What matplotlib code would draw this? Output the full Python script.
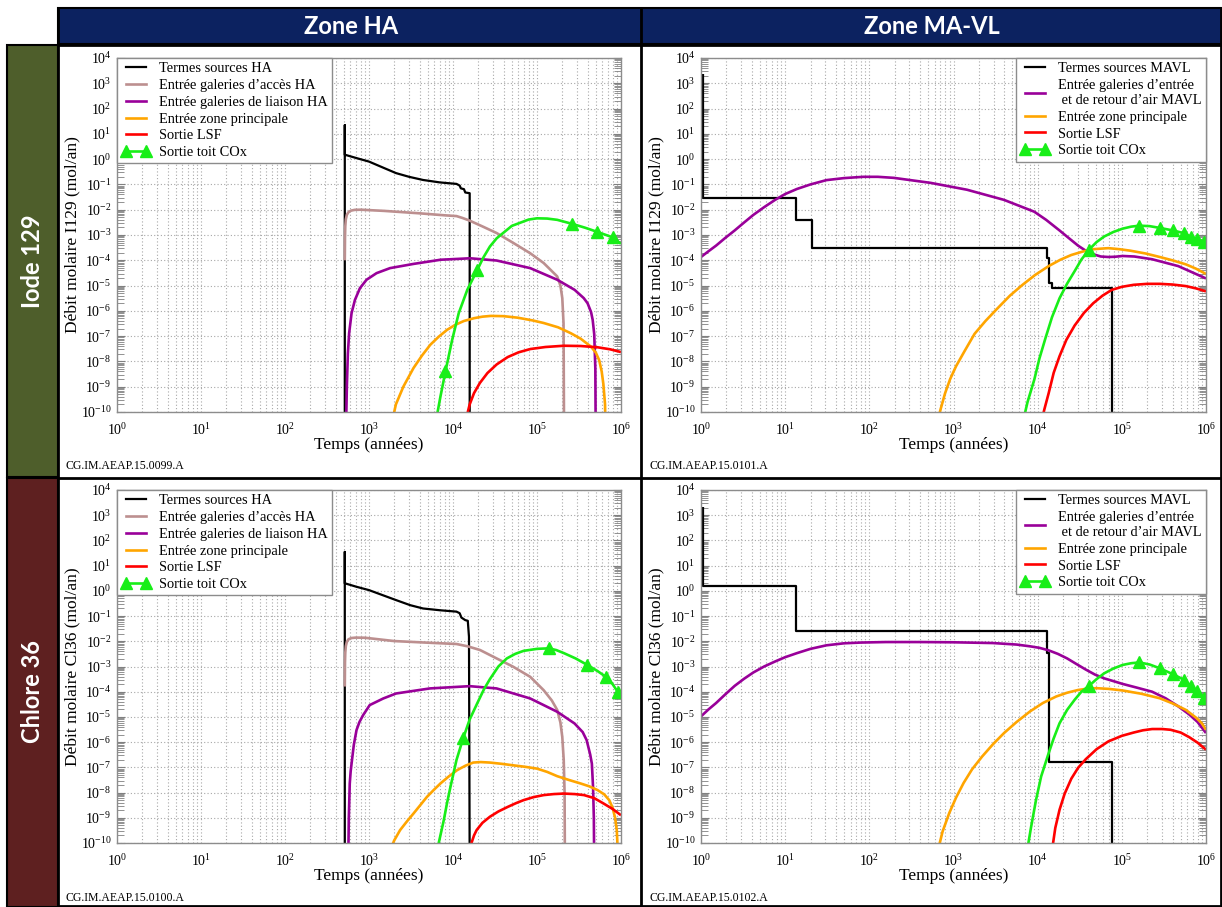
import numpy as np
import matplotlib
matplotlib.use("Agg")
import matplotlib.pyplot as plt
from matplotlib.lines import Line2D
from matplotlib.patches import Rectangle
from matplotlib.ticker import LogLocator, NullFormatter

plt.rcParams['font.family'] = ['Liberation Serif', 'DejaVu Serif']
plt.rcParams['mathtext.fontset'] = 'custom'
plt.rcParams['mathtext.rm'] = 'Liberation Serif'
plt.rcParams['mathtext.it'] = 'Liberation Serif:italic'
plt.rcParams['axes.unicode_minus'] = False

# ---------------------------------------------------------------- data
# Iode 129 - Zone HA  (temps en années, débit en mol/an)
i129_ha_source_t = [515, 515, 515, 710, 1000, 1500, 2100, 3000, 4400, 7000, 1.1e4, 1.2e4, 1.24e4, 1.35e4, 1.4e4, 1.58e4, 1.58e4]
i129_ha_source_v = [1e-11, 22, 1.5, 1.1, 0.8, 0.45, 0.28, 0.2, 0.15, 0.12, 0.105, 0.09, 0.07, 0.065, 0.048, 0.045, 1e-11]
i129_ha_acces_t = [515, 518, 522, 530, 545, 570, 610, 680, 800, 1500, 4000, 8000, 1.1e4, 1.3e4, 1.58e4, 2.3e4, 3.3e4, 5.2e4, 8.3e4, 1.2e5, 1.74e5, 1.9e5, 2e5, 2.07e5, 2.1e5]
i129_ha_acces_v = [1e-4, 8e-4, 2.2e-3, 4.2e-3, 6.3e-3, 8e-3, 9.2e-3, 9.9e-3, 1e-2, 9e-3, 7.2e-3, 6e-3, 5.6e-3, 4.7e-3, 3.7e-3, 2.1e-3, 1.2e-3, 4.9e-4, 1.9e-4, 7.8e-5, 2.3e-5, 1e-5, 3.2e-6, 3.2e-7, 1e-11]
i129_ha_liaison_t = [530, 545, 560, 580, 620, 680, 780, 935, 1230, 1780, 3400, 7100, 1.6e4, 3.3e4, 8.3e4, 1.74e5, 2.8e5, 3.6e5, 4e5, 4.4e5, 4.6e5, 4.8e5, 4.95e5, 5e5]
i129_ha_liaison_v = [1e-11, 1e-9, 2e-8, 1.3e-7, 8.1e-7, 2.7e-6, 7.9e-6, 1.7e-5, 3.1e-5, 4.9e-5, 7.2e-5, 1.05e-4, 1.2e-4, 9.8e-5, 4.9e-5, 1.7e-5, 6.8e-6, 3.2e-6, 2e-6, 9e-7, 4.4e-7, 1.2e-7, 5e-9, 1e-11]
i129_ha_zone_t = [1820, 2090, 2570, 3390, 4270, 5370, 6760, 8510, 1.07e4, 1.35e4, 1.78e4, 2.24e4, 2.82e4, 3.98e4, 5.89e4, 8.91e4, 1.2e5, 1.78e5, 2.51e5, 3.31e5, 4.37e5, 5.01e5, 5.5e5, 5.89e5, 6.17e5, 6.46e5, 6.53e5]
i129_ha_zone_v = [2.5e-11, 2e-10, 1.02e-9, 5.5e-9, 1.7e-8, 4.57e-8, 9.5e-8, 1.78e-7, 2.82e-7, 3.98e-7, 5.13e-7, 5.89e-7, 6.31e-7, 6.17e-7, 5.37e-7, 4.17e-7, 3.31e-7, 2.24e-7, 1.32e-7, 7.94e-8, 3.89e-8, 2.24e-8, 1.12e-8, 3.98e-9, 1.26e-9, 2e-10, 1e-11]
i129_ha_lsf_t = [1.26e4, 1.45e4, 1.58e4, 1.78e4, 2.09e4, 2.57e4, 3.31e4, 4.47e4, 6.03e4, 8.32e4, 1.26e5, 2.09e5, 3.31e5, 5.25e5, 7.41e5, 1e6]
i129_ha_lsf_v = [1e-11, 6.3e-11, 2e-10, 5.6e-10, 1.41e-9, 3.47e-9, 7.6e-9, 1.48e-8, 2.29e-8, 3.09e-8, 3.72e-8, 4.17e-8, 4.07e-8, 3.63e-8, 3.02e-8, 2.34e-8]
i129_ha_cox_t = [6310, 7080, 8130, 9770, 1.17e4, 1.48e4, 1.95e4, 2.29e4, 2.75e4, 3.31e4, 5.01e4, 7.94e4, 1e5, 1.32e5, 1.74e5, 2.63e5, 3.72e5, 5.25e5, 7.94e5, 1e6]
i129_ha_cox_v = [5e-11, 4e-10, 4e-9, 7.1e-8, 8.1e-7, 6.8e-6, 4.2e-5, 1.26e-4, 3.5e-4, 7.4e-4, 2.29e-3, 4.07e-3, 4.57e-3, 4.47e-3, 3.98e-3, 2.75e-3, 1.95e-3, 1.32e-3, 8.1e-4, 4.5e-4]
i129_ha_cox_marks = [2, 6, 15, 17, 18]

# Iode 129 - Zone MA-VL
i129_mavl_source_t = [1.05, 1.05, 13.5, 21, 1.29e4, 1.38e4, 1.5e4, 7.6e4]
i129_mavl_source_v = [2.4e3, 2.8e-2, 3.9e-3, 3e-4, 1.2e-4, 1.26e-5, 8e-6, 1e-11]
i129_mavl_galeries_t = [1, 1.23, 1.51, 1.95, 2.51, 3.24, 4.17, 5.62, 7.59, 10, 13.8, 20, 30.9, 50.1, 85.1, 126, 195, 537, 1445, 3981, 9120, 1.26e4, 1.82e4, 2.4e4, 3.02e4, 3.72e4, 4.57e4, 5.62e4, 6.92e4, 8.32e4, 1.02e5, 1.41e5, 2.29e5, 4.68e5, 1e6]
i129_mavl_galeries_v = [1.35e-4, 2.29e-4, 3.8e-4, 7.76e-4, 1.51e-3, 3.09e-3, 6.17e-3, 1.26e-2, 2.45e-2, 4.17e-2, 6.61e-2, 0.1, 0.148, 0.178, 0.2, 0.2, 0.182, 0.115, 6.17e-2, 2.45e-2, 8.32e-3, 3.98e-3, 1.51e-3, 7.08e-4, 3.8e-4, 2.4e-4, 1.74e-4, 1.41e-4, 1.35e-4, 1.38e-4, 1.48e-4, 1.41e-4, 1.1e-4, 5.89e-5, 1.91e-5]
i129_mavl_zone_t = [631, 708, 794, 912, 1072, 1349, 1778, 2399, 3311, 4677, 6607, 9333, 1.35e4, 1.86e4, 2.51e4, 3.39e4, 4.57e4, 6.92e4, 9.33e4, 1.26e5, 1.91e5, 2.82e5, 3.98e5, 5.75e5, 7.59e5, 1e6]
i129_mavl_zone_v = [3.16e-11, 1.41e-10, 5.5e-10, 2e-9, 6.46e-9, 2.51e-8, 1.23e-7, 3.98e-7, 1.23e-6, 3.98e-6, 1.07e-5, 2.63e-5, 5.89e-5, 1.05e-4, 1.62e-4, 2.19e-4, 2.75e-4, 3.02e-4, 2.75e-4, 2.4e-4, 1.86e-4, 1.35e-4, 1e-4, 6.92e-5, 4.68e-5, 2.88e-5]
i129_mavl_lsf_t = [1.07e4, 1.2e4, 1.35e4, 1.55e4, 1.82e4, 2.19e4, 2.75e4, 3.55e4, 4.57e4, 5.89e4, 7.59e4, 1e5, 1.38e5, 2e5, 2.82e5, 3.98e5, 5.75e5, 7.59e5, 1e6]
i129_mavl_lsf_v = [2.5e-11, 1.26e-10, 5.5e-10, 3.55e-9, 1.62e-8, 7.08e-8, 2.63e-7, 8.32e-7, 2e-6, 3.98e-6, 6.76e-6, 8.91e-6, 1.07e-5, 1.17e-5, 1.17e-5, 1.1e-5, 9.55e-6, 7.76e-6, 5.89e-6]
i129_mavl_cox_t = [6457, 7586, 9120, 1.05e4, 1.23e4, 1.48e4, 1.82e4, 2.24e4, 2.75e4, 3.31e4, 4.07e4, 5.01e4, 6.17e4, 7.94e4, 1.02e5, 1.29e5, 1.62e5, 2.14e5, 2.82e5, 4.07e5, 5.5e5, 6.61e5, 7.76e5, 9.55e5, 1e6]
i129_mavl_cox_v = [2.5e-11, 2.5e-10, 1.91e-9, 1.32e-8, 7.76e-8, 5.62e-7, 3.16e-6, 1.2e-5, 3.72e-5, 1.07e-4, 2.63e-4, 5.25e-4, 8.71e-4, 1.32e-3, 1.78e-3, 2.14e-3, 2.34e-3, 2.24e-3, 1.91e-3, 1.51e-3, 1.17e-3, 8.51e-4, 6.92e-4, 5.25e-4, 4.79e-4]
i129_mavl_cox_marks = [10, 16, 18, 19, 20, 21, 22, 23]

# Chlore 36 - Zone HA
cl36_ha_source_t = [515, 515, 515, 710, 1000, 1500, 2100, 3100, 4400, 7000, 1.1e4, 1.2e4, 1.26e4, 1.4e4, 1.5e4, 1.55e4, 1.58e4]
cl36_ha_source_v = [1e-11, 35, 2.0, 1.45, 1.07, 0.65, 0.43, 0.27, 0.2, 0.17, 0.15, 0.13, 0.087, 0.069, 0.065, 0.015, 1e-11]
cl36_ha_acces_t = [515, 518, 522, 530, 545, 570, 620, 700, 900, 2000, 5000, 1.1e4, 1.5e4, 2.1e4, 3.3e4, 5.2e4, 8.3e4, 1.2e5, 1.5e5, 1.74e5, 1.9e5, 2e5, 2.08e5, 2.13e5, 2.15e5]
cl36_ha_acces_v = [1.6e-4, 1.5e-3, 3.5e-3, 6.5e-3, 9.5e-3, 1.2e-2, 1.35e-2, 1.4e-2, 1.38e-2, 1.02e-2, 8.8e-3, 7.8e-3, 6.3e-3, 4.5e-3, 2.1e-3, 9.8e-4, 3.9e-4, 1.15e-4, 4.5e-5, 1.9e-5, 6e-6, 1.6e-6, 2e-7, 1e-8, 1e-11]
cl36_ha_liaison_t = [565, 575, 590, 605, 620, 660, 710, 770, 850, 1020, 1480, 2100, 5300, 1.58e4, 3.3e4, 8.3e4, 1.74e5, 2.8e5, 3.5e5, 3.9e5, 4.3e5, 4.5e5, 4.65e5, 4.75e5, 4.8e5]
cl36_ha_liaison_v = [1e-11, 1e-9, 2.3e-8, 7e-8, 1.4e-7, 7.9e-7, 3e-6, 6.3e-6, 1.17e-5, 2.95e-5, 5.4e-5, 8.5e-5, 1.35e-4, 1.66e-4, 1.35e-4, 5.4e-5, 1.6e-5, 5.5e-6, 2.5e-6, 1.2e-6, 3.2e-7, 1.4e-7, 1.6e-8, 1e-9, 1e-11]
cl36_ha_zone_t = [1738, 1995, 2344, 2818, 3388, 4074, 4898, 5888, 7079, 8913, 1.12e4, 1.41e4, 1.74e4, 2.14e4, 2.75e4, 3.8e4, 5.25e4, 7.24e4, 1e5, 1.32e5, 1.74e5, 2.4e5, 3.31e5, 4.17e5, 5.25e5, 6.31e5, 7.24e5, 7.94e5, 8.51e5, 8.91e5, 9.23e5]
cl36_ha_zone_v = [4e-11, 1.26e-10, 3.24e-10, 7.08e-10, 1.48e-9, 3.16e-9, 6.76e-9, 1.26e-8, 2.29e-8, 4.37e-8, 7.76e-8, 1.17e-7, 1.55e-7, 1.62e-7, 1.55e-7, 1.38e-7, 1.2e-7, 1.05e-7, 8.91e-8, 6.61e-8, 4.47e-8, 3.16e-8, 2.29e-8, 1.78e-8, 1.26e-8, 8.51e-9, 5.01e-9, 2.51e-9, 1e-9, 3.16e-10, 2.5e-11]
cl36_ha_lsf_t = [1.55e4, 1.66e4, 1.78e4, 1.91e4, 2.24e4, 2.75e4, 3.47e4, 4.47e4, 5.62e4, 6.92e4, 9.12e4, 1.2e5, 1.58e5, 2.09e5, 2.82e5, 3.63e5, 4.79e5, 6.17e5, 7.94e5, 1e6]
cl36_ha_lsf_v = [3.16e-11, 1e-10, 2e-10, 3.24e-10, 6.31e-10, 1.1e-9, 1.78e-9, 2.69e-9, 3.8e-9, 5.01e-9, 6.61e-9, 7.94e-9, 8.71e-9, 9.12e-9, 8.71e-9, 7.94e-9, 6.03e-9, 3.72e-9, 2.24e-9, 1.26e-9]
cl36_ha_cox_t = [6166, 6918, 7762, 8511, 9333, 1.1e4, 1.32e4, 1.58e4, 1.95e4, 2.34e4, 2.75e4, 3.47e4, 4.37e4, 5.5e4, 6.92e4, 1e5, 1.38e5, 1.7e5, 2.09e5, 2.88e5, 3.98e5, 5.25e5, 6.61e5, 7.94e5, 9.12e5, 1e6]
cl36_ha_cox_v = [2.5e-11, 1.41e-10, 7.94e-10, 3.98e-9, 1.7e-8, 1.95e-7, 1.41e-6, 7.94e-6, 3.55e-5, 1.26e-4, 3.16e-4, 1e-3, 2.09e-3, 3.16e-3, 4.17e-3, 5.01e-3, 5.25e-3, 4.47e-3, 3.39e-3, 2.09e-3, 1.15e-3, 6.61e-4, 3.89e-4, 2e-4, 1e-4, 7.41e-5]
cl36_ha_cox_marks = [6, 16, 20, 22, 24]

# Chlore 36 - Zone MA-VL
cl36_mavl_source_t = [1.05, 1.05, 13.5, 1.29e4, 1.38e4, 7.6e4]
cl36_mavl_source_v = [2.2e3, 1.5, 2.6e-2, 3.4e-3, 1.6e-7, 1e-11]
cl36_mavl_galeries_t = [1, 1.23, 1.51, 1.95, 2.51, 3.24, 4.17, 5.62, 7.59, 10, 13.8, 20, 30.9, 50.1, 79.4, 158, 398, 1000, 2951, 5623, 8128, 1.05e4, 1.35e4, 1.74e4, 2.24e4, 2.88e4, 3.72e4, 4.79e4, 6.17e4, 7.94e4, 1.02e5, 1.51e5, 2.29e5, 3.31e5, 4.68e5, 6.31e5, 7.94e5, 1e6]
cl36_mavl_galeries_v = [1.05e-5, 2e-5, 3.55e-5, 7.94e-5, 1.7e-4, 3.24e-4, 5.75e-4, 1e-3, 1.58e-3, 2.34e-3, 3.39e-3, 5.01e-3, 6.92e-3, 8.32e-3, 8.91e-3, 9.33e-3, 9.33e-3, 9.12e-3, 8.51e-3, 7.41e-3, 6.31e-3, 5.5e-3, 4.37e-3, 3.16e-3, 2.09e-3, 1.26e-3, 7.59e-4, 4.79e-4, 3.39e-4, 2.63e-4, 2.04e-4, 1.45e-4, 1e-4, 5.5e-5, 2.63e-5, 1.26e-5, 6.31e-6, 2.29e-6]
cl36_mavl_zone_t = [631, 741, 891, 1072, 1318, 1660, 2188, 2951, 3981, 5623, 8128, 1.15e4, 1.66e4, 2.24e4, 3.02e4, 3.89e4, 5.01e4, 7.08e4, 1.02e5, 1.7e5, 2.82e5, 3.98e5, 5.75e5, 7.76e5, 8.91e5, 1e6]
cl36_mavl_zone_v = [3.16e-11, 2.82e-10, 1.55e-9, 6.31e-9, 2.4e-8, 8.32e-8, 2.69e-7, 8.32e-7, 2.29e-6, 6.31e-6, 1.66e-5, 3.55e-5, 6.46e-5, 9.12e-5, 1.17e-4, 1.32e-4, 1.38e-4, 1.29e-4, 1.12e-4, 8.32e-5, 5.5e-5, 3.47e-5, 1.91e-5, 8.91e-6, 5.62e-6, 3.09e-6]
cl36_mavl_lsf_t = [1.45e4, 1.62e4, 1.82e4, 2.09e4, 2.51e4, 3.02e4, 3.72e4, 5.01e4, 6.92e4, 1e5, 1.38e5, 1.78e5, 2.29e5, 3.02e5, 3.8e5, 5.01e5, 6.31e5, 7.94e5, 1e6]
cl36_mavl_lsf_v = [3.16e-11, 3.98e-10, 2.09e-9, 8.91e-9, 3.55e-8, 9.55e-8, 2.09e-7, 5.25e-7, 1.07e-6, 1.78e-6, 2.4e-6, 2.95e-6, 3.31e-6, 3.31e-6, 3.09e-6, 2.4e-6, 1.58e-6, 9.55e-7, 5.01e-7]
cl36_mavl_cox_t = [7244, 8318, 9550, 1.1e4, 1.35e4, 1.55e4, 1.82e4, 2.24e4, 2.75e4, 3.31e4, 4.07e4, 5.01e4, 6.17e4, 7.94e4, 1.02e5, 1.29e5, 1.62e5, 2.14e5, 2.82e5, 4.07e5, 5.5e5, 6.61e5, 7.76e5, 9.55e5, 1e6]
cl36_mavl_cox_v = [2.5e-11, 3.98e-10, 5.01e-9, 4.37e-8, 3.63e-7, 1.41e-6, 5.62e-6, 1.91e-5, 4.79e-5, 1e-4, 1.7e-4, 3.16e-4, 5.37e-4, 8.32e-4, 1.15e-3, 1.35e-3, 1.45e-3, 1.2e-3, 8.51e-4, 4.9e-4, 2.95e-4, 1.7e-4, 1.02e-4, 5.5e-5, 4.79e-5]
cl36_mavl_cox_marks = [10, 16, 18, 19, 20, 21, 22, 23]

labels_ha = ["Termes sources HA", "Entrée galeries d’accès HA", "Entrée galeries de liaison HA",
             "Entrée zone principale", "Sortie LSF", "Sortie toit COx"]
labels_mavl = ["Termes sources MAVL", "Entrée galeries d’entrée\n et de retour d’air MAVL",
               "Entrée zone principale", "Sortie LSF", "Sortie toit COx"]
column_titles = ["Zone HA", "Zone MA-VL"]
row_titles = ["Iode 129", "Chlore 36"]
ylabels = ["Débit molaire I129 (mol/an)", "Débit molaire Cl36 (mol/an)"]
xlabel = "Temps (années)"
codes = [["CG.IM.AEAP.15.0099.A", "CG.IM.AEAP.15.0101.A"],
         ["CG.IM.AEAP.15.0100.A", "CG.IM.AEAP.15.0102.A"]]

# ---------------------------------------------------------------- styles
C_BLACK = "#000000"
C_ACCES = "#bc8f8f"
C_LIAISON = "#990099"
C_ZONE = "#ffa500"
C_LSF = "#ff0000"
C_COX = "#18ee18"
NAVY = "#0c2260"
ROW_COLORS = ["#4e5e2b", "#5e2020"]

W, H = 1222, 907
fig = plt.figure(figsize=(W / 100, H / 100), dpi=100)

# background frame drawn in pixel coordinates
bg = fig.add_axes([0, 0, 1, 1], zorder=-5)
bg.set_xlim(0, W)
bg.set_ylim(H, 0)
bg.axis("off")
bg.add_patch(Rectangle((58, 8), W - 58, 36, fc=NAVY, ec="black", lw=1.5))
bg.add_patch(Rectangle((7, 45), 51, 432, fc=ROW_COLORS[0], ec="black", lw=1.5))
bg.add_patch(Rectangle((7, 478), 51, 429, fc=ROW_COLORS[1], ec="black", lw=1.5))
for x in (58, 641, 1221):
    bg.plot([x, x], [8, H], color="black", lw=2)
for y in (44.5, 477.5, 906):
    bg.plot([58, W], [y, y], color="black", lw=2)
title_kw = dict(color="white", ha="center", va="center", fontsize=17,
                family="Lato", weight="bold")
bg.text(351, 27, column_titles[0], **title_kw)
bg.text(932, 27, column_titles[1], **title_kw)
bg.text(32, 261, row_titles[0], rotation=90, **title_kw)
bg.text(32, 692, row_titles[1], rotation=90, **title_kw)


def px_axes(left, top, right, bottom):
    return fig.add_axes([left / W, 1 - bottom / H, (right - left) / W, (bottom - top) / H])


def draw_panel(ax, curves, ylabel, legend_left):
    ax.set_xscale("log")
    ax.set_yscale("log")
    handles, labels = [], []
    for t, v, color, lw, label, marks, steps in curves:
        kw = dict(color=color, lw=lw, solid_joinstyle="round", solid_capstyle="butt")
        if steps:
            kw["drawstyle"] = "steps-post"
        if marks is not None:
            kw.update(marker="^", markevery=marks, ms=8.5, mfc=color, mec=color)
        ax.plot(t, v, **kw)
        h = Line2D([], [], color=color, lw=lw)
        if marks is not None:
            h.set_marker("^")
            h.set_markersize(8.5)
            h.set_markerfacecolor(color)
            h.set_markeredgecolor(color)
        handles.append(h)
        labels.append(label)
    ax.set_xlim(1, 1e6)
    ax.set_ylim(1e-10, 1e4)
    for axis in (ax.xaxis, ax.yaxis):
        axis.set_major_locator(LogLocator(base=10, numticks=20))
        axis.set_minor_locator(LogLocator(base=10, subs=np.arange(2, 10), numticks=20))
        axis.set_minor_formatter(NullFormatter())
    ax.grid(True, which="major", axis="both", ls=(0, (1, 2)), color="#a8a8a8", lw=0.8)
    ax.grid(True, which="minor", axis="x", ls=(0, (1, 2)), color="#a8a8a8", lw=0.8)
    ax.tick_params(axis="y", which="both", direction="in", left=True, right=True,
                   color="#808080", labelsize=10, pad=4)
    ax.tick_params(axis="y", which="major", length=6, width=0.8)
    ax.tick_params(axis="y", which="minor", length=5, width=0.6)
    ax.tick_params(axis="x", which="both", length=0, labelsize=10, pad=7)
    for s in ax.spines.values():
        s.set_color("#8c8c8c")
        s.set_linewidth(1)
    ax.set_ylabel(ylabel, fontsize=12.5)
    ax.yaxis.set_label_coords(-0.072, 0.5)
    ax.set_xlabel(xlabel, fontsize=12.5)
    ax.xaxis.set_label_coords(0.5, -0.07)
    leg = ax.legend(handles, labels, loc="upper left" if legend_left else "upper right",
                    bbox_to_anchor=(0, 1) if legend_left else (1, 1), borderaxespad=0,
                    fancybox=False, framealpha=1, edgecolor="#8c8c8c", fontsize=10.4,
                    handlelength=2.0, handletextpad=0.6, labelspacing=0.25,
                    borderpad=0.3, numpoints=2)
    leg.get_frame().set_linewidth(1)


panels = [
    [
        [
            (i129_ha_source_t, i129_ha_source_v, C_BLACK, 1.6, labels_ha[0], None, False),
            (i129_ha_acces_t, i129_ha_acces_v, C_ACCES, 1.9, labels_ha[1], None, False),
            (i129_ha_liaison_t, i129_ha_liaison_v, C_LIAISON, 1.9, labels_ha[2], None, False),
            (i129_ha_zone_t, i129_ha_zone_v, C_ZONE, 1.9, labels_ha[3], None, False),
            (i129_ha_lsf_t, i129_ha_lsf_v, C_LSF, 1.9, labels_ha[4], None, False),
            (i129_ha_cox_t, i129_ha_cox_v, C_COX, 1.9, labels_ha[5], i129_ha_cox_marks, False),
        ],
        [
            (i129_mavl_source_t, i129_mavl_source_v, C_BLACK, 1.6, labels_mavl[0], None, True),
            (i129_mavl_galeries_t, i129_mavl_galeries_v, C_LIAISON, 1.9, labels_mavl[1], None, False),
            (i129_mavl_zone_t, i129_mavl_zone_v, C_ZONE, 1.9, labels_mavl[2], None, False),
            (i129_mavl_lsf_t, i129_mavl_lsf_v, C_LSF, 1.9, labels_mavl[3], None, False),
            (i129_mavl_cox_t, i129_mavl_cox_v, C_COX, 1.9, labels_mavl[4], i129_mavl_cox_marks, False),
        ],
    ],
    [
        [
            (cl36_ha_source_t, cl36_ha_source_v, C_BLACK, 1.6, labels_ha[0], None, False),
            (cl36_ha_acces_t, cl36_ha_acces_v, C_ACCES, 1.9, labels_ha[1], None, False),
            (cl36_ha_liaison_t, cl36_ha_liaison_v, C_LIAISON, 1.9, labels_ha[2], None, False),
            (cl36_ha_zone_t, cl36_ha_zone_v, C_ZONE, 1.9, labels_ha[3], None, False),
            (cl36_ha_lsf_t, cl36_ha_lsf_v, C_LSF, 1.9, labels_ha[4], None, False),
            (cl36_ha_cox_t, cl36_ha_cox_v, C_COX, 1.9, labels_ha[5], cl36_ha_cox_marks, False),
        ],
        [
            (cl36_mavl_source_t, cl36_mavl_source_v, C_BLACK, 1.6, labels_mavl[0], None, True),
            (cl36_mavl_galeries_t, cl36_mavl_galeries_v, C_LIAISON, 1.9, labels_mavl[1], None, False),
            (cl36_mavl_zone_t, cl36_mavl_zone_v, C_ZONE, 1.9, labels_mavl[2], None, False),
            (cl36_mavl_lsf_t, cl36_mavl_lsf_v, C_LSF, 1.9, labels_mavl[3], None, False),
            (cl36_mavl_cox_t, cl36_mavl_cox_v, C_COX, 1.9, labels_mavl[4], cl36_mavl_cox_marks, False),
        ],
    ],
]

rows_px = [(58, 412), (490, 843)]
cols_px = [(117, 621), (701, 1206)]
code_y = [466, 898]
code_x = [65, 650]

for r in range(2):
    for c in range(2):
        top, bottom = rows_px[r]
        left, right = cols_px[c]
        ax = px_axes(left, top, right, bottom)
        draw_panel(ax, panels[r][c], ylabels[r], legend_left=(c == 0))
        bg.text(code_x[c], code_y[r], codes[r][c], fontsize=8.5, ha="left", va="center",
                family="Liberation Serif")

fig.savefig("out.png", dpi=100)
